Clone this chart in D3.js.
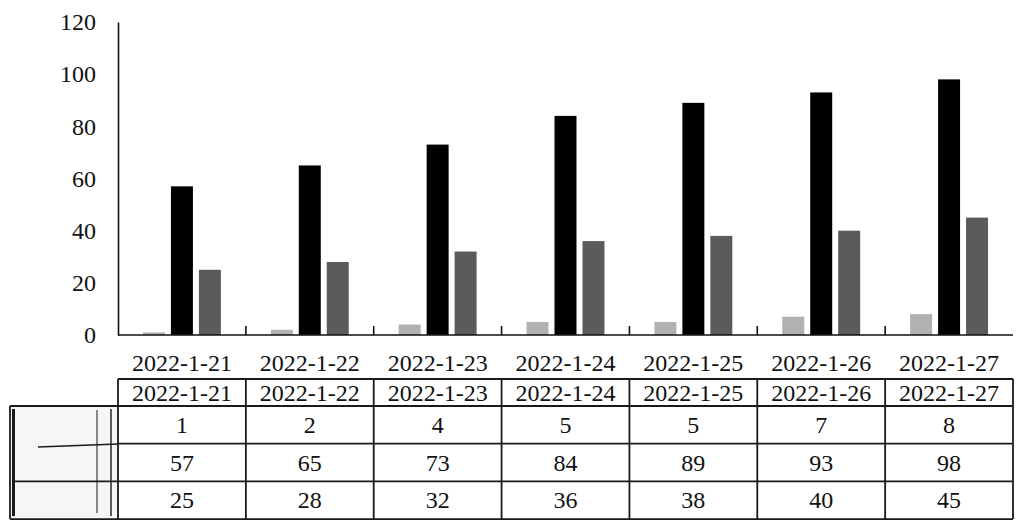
<!DOCTYPE html>
<html>
<head>
<meta charset="utf-8">
<script src="https://cdn.jsdelivr.net/npm/d3@7"></script>
<style>
  html, body { margin: 0; padding: 0; background: #fff; }
  svg { display: block; }
  text { font-family: "Liberation Serif", "Times New Roman", serif; fill: #111; }
</style>
</head>
<body>
<svg id="chart" width="1024" height="531"></svg>
<script>
const categories = ["2022-1-21","2022-1-22","2022-1-23","2022-1-24","2022-1-25","2022-1-26","2022-1-27"];
const seriesNames = ["s1","s2","s3"];
const series1 = [1, 2, 4, 5, 5, 7, 8];
const series2 = [57, 65, 73, 84, 89, 93, 98];
const series3 = [25, 28, 32, 36, 38, 40, 45];
const yTicks = [0, 20, 40, 60, 80, 100, 120];
const colors = ["#b1b1b1", "#000000", "#5b5b5b"];

const allSeries = [series1, series2, series3];
const svg = d3.select("#chart");

const x = d3.scaleBand().domain(categories).range([118, 1013]).padding(0);
const xs = d3.scaleBand().domain(seriesNames).range([0, x.bandwidth()])
  .paddingInner(0.214).paddingOuter(0.893);
const y = d3.scaleLinear().domain([0, 120]).range([335, 22]);

// bars
const g = svg.append("g");
categories.forEach((c, i) => {
  seriesNames.forEach((s, j) => {
    const v = allSeries[j][i];
    g.append("rect")
      .attr("x", x(c) + xs(s))
      .attr("y", y(v))
      .attr("width", xs.bandwidth())
      .attr("height", y(0) - y(v))
      .attr("fill", colors[j]);
  });
});

// y axis
const yAxis = d3.axisLeft(y).tickValues(yTicks).tickSize(0).tickPadding(22);
const ya = svg.append("g").attr("transform", "translate(118,0)").call(yAxis);
ya.select(".domain").attr("stroke", "#111").attr("stroke-width", 1.6);
ya.selectAll("text").style("font-size", "24px").style("font-family", "Liberation Serif, serif").attr("fill", "#111");

// x axis line
svg.append("line").attr("x1", 118).attr("x2", 1013).attr("y1", y(0)).attr("y2", y(0))
  .attr("stroke", "#111").attr("stroke-width", 1.6);
// boundary ticks
categories.slice(1).forEach(c => {
  svg.append("line").attr("x1", x(c)).attr("x2", x(c)).attr("y1", y(0)).attr("y2", y(0) - 9)
    .attr("stroke", "#111").attr("stroke-width", 1.6);
});
// x labels
svg.append("g").selectAll("text").data(categories).join("text")
  .attr("x", d => x(d) + x.bandwidth() / 2)
  .attr("y", 371)
  .attr("text-anchor", "middle")
  .style("font-size", "24px")
  .text(d => d);

// table
const tTop = 379, hBot = 406, rowH = 37.7, tRight = 1013;
const rowLines = [hBot, hBot + rowH, hBot + 2 * rowH, hBot + 3 * rowH];
const line = (x1, y1, x2, y2, w) => svg.append("line")
  .attr("x1", x1).attr("y1", y1).attr("x2", x2).attr("y2", y2)
  .attr("stroke", "#1a1a1a").attr("stroke-width", w || 1.8);

// legend-like left box
svg.append("rect").attr("x", 11).attr("y", hBot).attr("width", 107).attr("height", rowLines[3] - hBot)
  .attr("fill", "#f6f6f4");
line(10, hBot, 10, rowLines[3], 1.8);
line(13.5, hBot + 3, 13.5, rowLines[3] - 3, 3);
line(97, hBot + 4, 97, rowLines[3] - 6, 1);
line(111, hBot + 3, 111, rowLines[3] - 3, 1.4);
line(38, 447, 118, 444, 1.4);
line(13, rowLines[2], 118, rowLines[2], 1.6);

// header row borders
line(118, tTop, tRight, tTop);
line(10, hBot, tRight, hBot);
line(118, rowLines[1], tRight, rowLines[1]);
line(118, rowLines[2], tRight, rowLines[2]);
line(10, rowLines[3], tRight, rowLines[3]);
// verticals
line(118, tTop, 118, rowLines[3]);
categories.forEach(c => line(x(c) + x.bandwidth(), tTop, x(c) + x.bandwidth(), rowLines[3]));

// header texts
svg.append("g").selectAll("text").data(categories).join("text")
  .attr("x", d => x(d) + x.bandwidth() / 2)
  .attr("y", 401)
  .attr("text-anchor", "middle")
  .style("font-size", "24px")
  .text(d => d);

// values
allSeries.forEach((arr, r) => {
  svg.append("g").selectAll("text").data(arr).join("text")
    .attr("x", (d, i) => x(categories[i]) + x.bandwidth() / 2)
    .attr("y", rowLines[r] + rowH / 2 + 8)
    .attr("text-anchor", "middle")
    .style("font-size", "24px")
    .text(d => d);
});
</script>
</body>
</html>
